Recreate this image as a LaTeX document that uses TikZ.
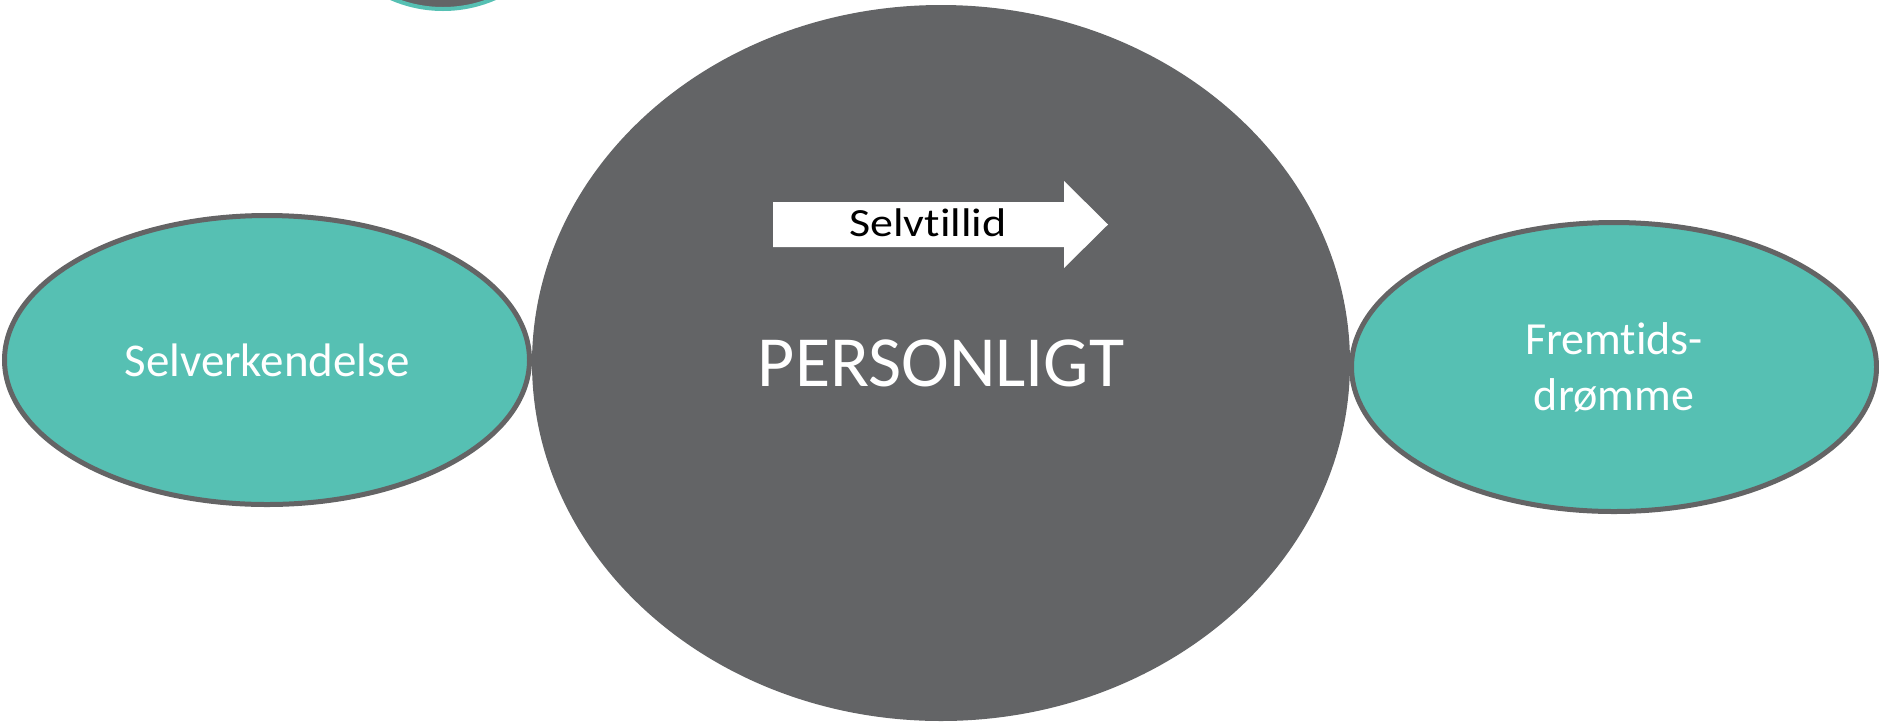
\documentclass[tikz,border=0pt]{standalone}
\usepackage{fontspec}
\setmainfont{Carlito}[Ligatures=NoCommon]
\usetikzlibrary{shapes.geometric}
\definecolor{teal1}{RGB}{86,192,179}
\definecolor{gray1}{RGB}{99,100,102}
\definecolor{edge1}{RGB}{100,100,101}
\begin{document}
\begin{tikzpicture}[x=1pt,y=-1pt,
  side/.style={ellipse, fill=teal1, draw=edge1, line width=5pt, inner sep=0pt,
    minimum width=525pt, minimum height=289pt, text=white,
    font=\fontsize{47}{56}\selectfont, align=center},
  core/.style={ellipse, fill=gray1, inner sep=0pt, minimum width=818pt,
    minimum height=716pt, text=white, font=\fontsize{72}{86}\selectfont},
  arrowlabel/.style={font=\fontsize{40}{48}\selectfont, text=black, anchor=base, inner sep=0pt}]
\useasboundingbox (0,0) rectangle (1879,721);
\clip (0,0) rectangle (1879,721);
\node[circle, fill=gray1, draw=teal1, line width=4pt, minimum size=260pt] (top) at (443,-121) {};
\node[side] (left) at (267,360) {Selverkendelse};
\node[side, font=\fontsize{46}{56}\selectfont] (right) at (1614,367) {Fremtids-\\drømme};
\node[core] (core) at (941,363) {PERSONLIGT};
\fill[white] (773,202) -- (1064,202) -- (1064,181) -- (1108,224.5) -- (1064,268) -- (1064,247) -- (773,247) -- cycle;
\node[arrowlabel] (conf) at (928,236) {\scalebox{1.15}[1]{Selvtillid}};
\end{tikzpicture}
\end{document}
